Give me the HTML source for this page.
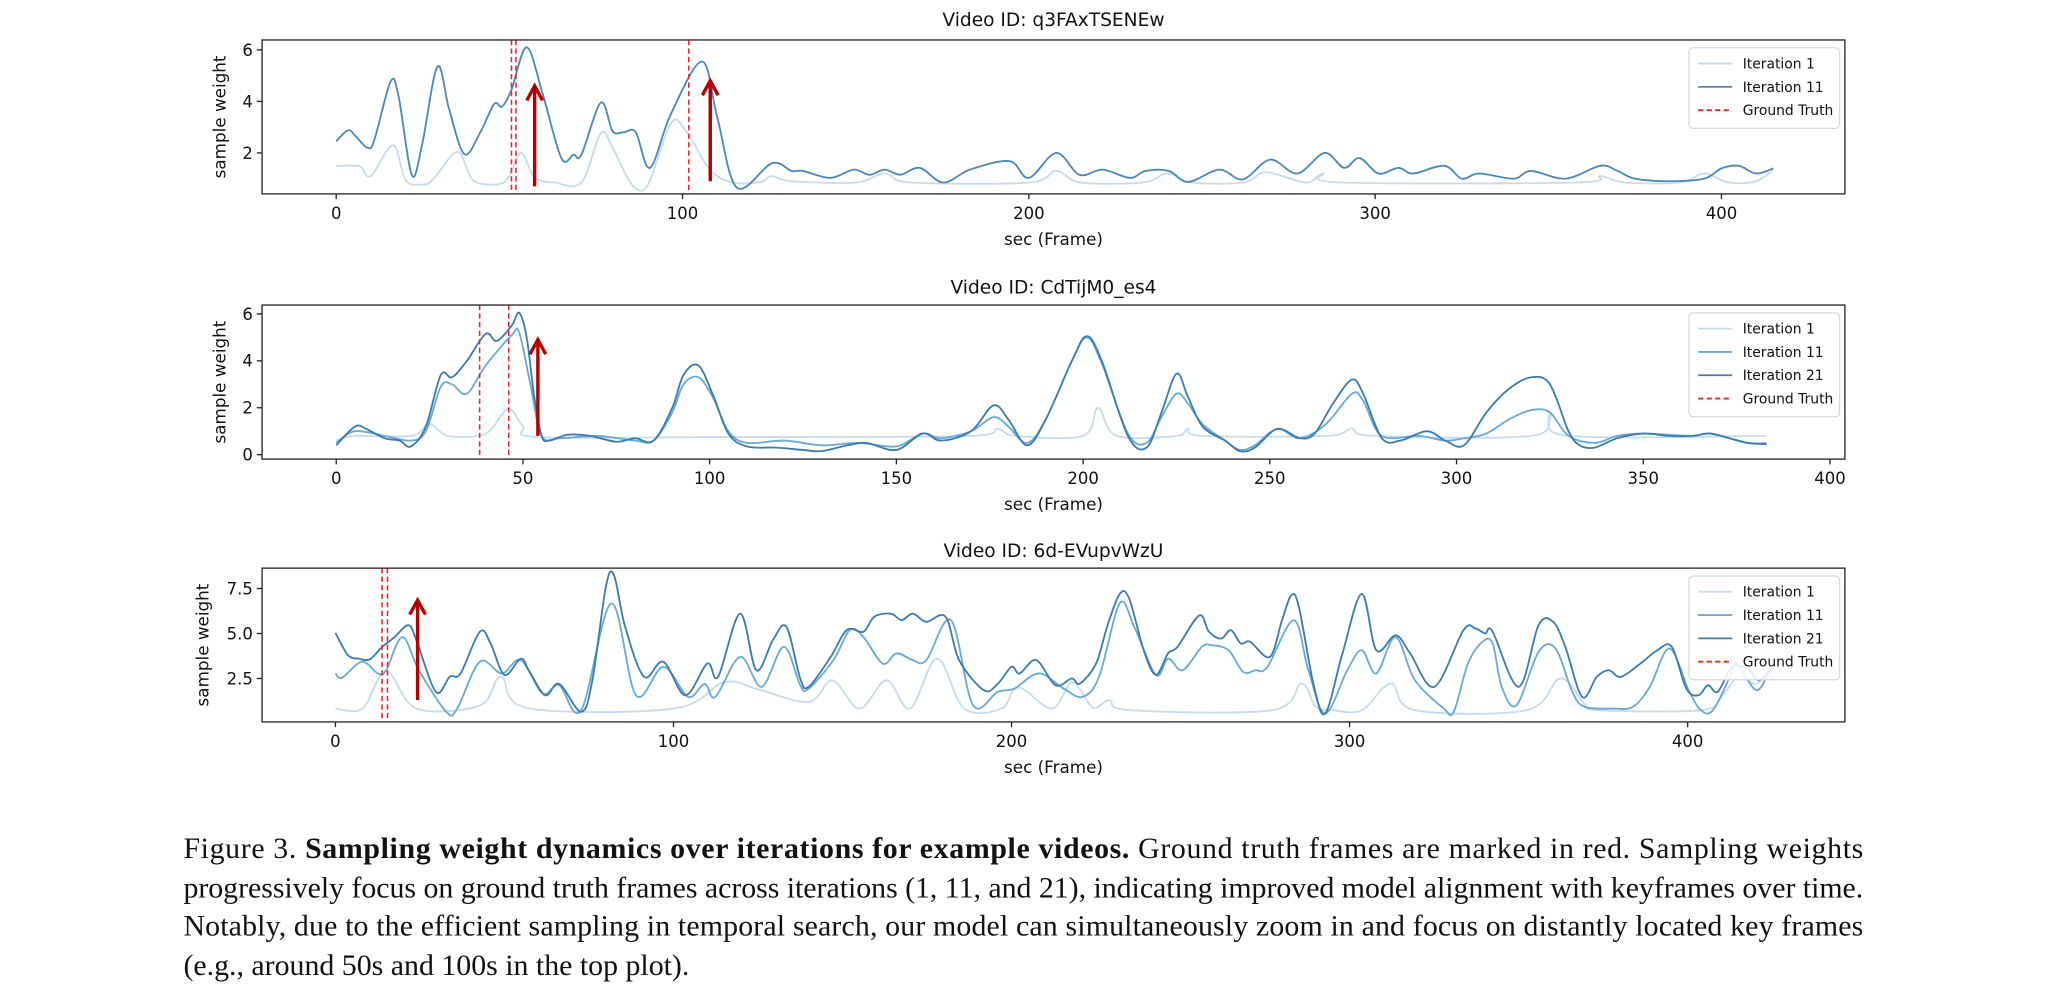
<!DOCTYPE html>
<html><head><meta charset="utf-8"><style>
html,body{margin:0;padding:0;background:#fff;}
svg{display:block;}
text{font-family:"DejaVu Sans","Liberation Sans",sans-serif;fill:#111;}
.cap{font-family:"Liberation Serif",serif;font-size:22.8px;fill:#111;}
</style></head><body>
<svg id="fig" width="2048" height="984" viewBox="0 0 1563 751" preserveAspectRatio="none" xmlns="http://www.w3.org/2000/svg">
<g id="plots"></g>
<g>
<text class="cap" x="140" y="655" textLength="1282" lengthAdjust="spacing">Figure 3. <tspan font-weight="bold">Sampling weight dynamics over iterations for example videos.</tspan> Ground truth frames are marked in red. Sampling weights</text>
<text class="cap" x="140" y="685" textLength="1282" lengthAdjust="spacing">progressively focus on ground truth frames across iterations (1, 11, and 21), indicating improved model alignment with keyframes over time.</text>
<text class="cap" x="140" y="714" textLength="1282" lengthAdjust="spacing">Notably, due to the efficient sampling in temporal search, our model can simultaneously zoom in and focus on distantly located key frames</text>
<text class="cap" x="140" y="744">(e.g., around 50s and 100s in the top plot).</text>
</g>
</svg>
<script>
// ---- Plot 1 data ----
const p1Iter11X=[0,3.4,5.6,9,11,15.7,18,21.8,24.7,29.2,32.6,37,41.6,45.6,47.9,50.6,55,59.6,65,68.5,70.8,76.4,79.8,83,86.5,90.6,96.6,105.6,110,115.7,125.8,131.5,134.8,142.7,149.4,154,158.4,162.9,168.5,175.3,183,194.4,200,207.9,214.6,221.3,229.2,233.7,240.4,246,255,261.8,269.7,277.5,285.4,291,295.5,301,306.7,311,320,325,330,340,345,355,365,370,375,385,395,400,405,410,415];
const p1Iter11Y=[2.45,2.88,2.65,2.2,2.5,4.77,4.2,1.15,2.25,5.35,3.7,1.95,2.8,3.9,3.8,4.45,6.1,4.3,1.8,1.93,1.93,3.95,2.85,2.8,2.8,1.42,3.5,5.55,3.4,0.65,1.6,1.3,1.3,1.03,1.35,1.15,1.35,1.15,1.42,0.85,1.35,1.68,1.03,2.0,1.15,1.35,1.03,1.3,1.3,0.87,1.35,0.97,1.74,1.2,2.0,1.42,1.8,1.2,1.42,1.2,1.5,1.0,1.2,1.0,1.3,1.0,1.5,1.3,1.0,0.9,1.0,1.4,1.5,1.2,1.4];
const p1Iter1X=[0,6.7,10,16.4,20,24.7,28,35,39.3,45,49.4,53.3,57.3,63,70.8,76.4,79.8,85.4,90,96.6,101,107.9,114.6,122.5,125.8,131.5,150,158.4,166,200,207.9,215,233,240,247,262,268.5,280,285,290,358,365,372,388,395,402,410,415];
const p1Iter1Y=[1.5,1.48,1.1,2.3,0.95,0.77,0.97,2.05,0.97,0.77,0.97,2.0,1.05,0.85,0.85,2.77,2.2,0.77,0.77,3.15,2.85,1.35,0.85,0.87,1.1,0.9,0.85,1.2,0.85,0.85,1.3,0.85,0.85,1.2,0.85,0.85,1.25,0.85,1.2,0.85,0.85,1.1,0.85,0.85,1.2,0.85,0.9,1.35];
const p1Truth=[50.6,51.9,101.8];
const p1ArrowX=[57.3,108];
const p1ArrowY0=[0.7,0.9];
const p1ArrowY1=[4.6,4.8];
const p1XTicks=[0,100,200,300,400];
const p1YTicks=[2,4,6];

// ---- Plot 2 data ----
const p2Iter21X=[0,5,8,13,17,20,24,28,31,35,40,43,47,49,51,53,55,57,62,68,75,80,85,90,93,97,101,105,110,118,125,130,137,142,150,157,162,170,176,180,185,190,197,201,205,212,217,221,225,228,232,238,242,246,252,258,262,267,272,275,280,285,292,297,302,308,314,320,325,330,333,337,343,350,357,363,368,373,378,383];
const p2Iter21Y=[0.4,1.2,1.1,0.7,0.6,0.35,1.2,3.4,3.3,4.0,5.15,4.85,5.5,6.05,5.0,2.5,0.8,0.6,0.85,0.8,0.55,0.7,0.6,2.0,3.4,3.8,2.5,0.9,0.35,0.3,0.2,0.15,0.4,0.5,0.2,0.9,0.6,1.0,2.1,1.5,0.4,1.5,4.0,5.05,4.0,0.8,0.3,1.8,3.45,2.5,1.2,0.6,0.15,0.3,1.1,0.7,0.9,2.2,3.2,2.6,0.7,0.6,1.0,0.6,0.4,1.8,2.8,3.3,3.0,1.0,0.4,0.3,0.7,0.9,0.8,0.8,0.9,0.7,0.5,0.45];
const p2Iter11X=[0,5,13,20,24,28,31,35,40,47,49,52,55,60,70,80,85,90,93,97,101,105,110,120,130,140,150,157,162,170,176,180,185,190,197,201,205,212,217,221,225,228,232,238,242,246,252,258,265,272,275,280,290,297,302,308,314,320,325,330,337,343,350,363,368,378,383];
const p2Iter11Y=[0.5,1.0,0.8,0.6,1.0,2.9,3.0,2.6,3.8,5.1,5.2,3.0,0.8,0.7,0.8,0.6,0.6,1.8,3.0,3.3,2.4,1.0,0.5,0.6,0.4,0.5,0.35,0.9,0.7,1.0,1.6,1.2,0.5,1.5,4.0,5.0,3.9,0.9,0.5,1.6,2.6,2.2,1.3,0.6,0.2,0.4,1.1,0.7,1.3,2.6,2.3,0.8,0.8,0.6,0.7,0.9,1.5,1.9,1.8,0.8,0.5,0.8,0.9,0.8,0.9,0.5,0.5];
const p2Iter1X=[0,5,20,25,30,40,46,50,54,100,120,170,177,182,200,204,209,225,228,232,265,272,278,320,325,330,383];
const p2Iter1Y=[0.6,0.8,0.8,1.3,0.8,0.9,1.95,1.2,0.75,0.75,0.75,0.8,1.1,0.8,0.8,2.0,0.8,0.8,1.1,0.8,0.8,1.1,0.8,0.8,1.7,0.8,0.8];
const p2Truth=[38.4,46.2];
const p2ArrowX=[54];
const p2ArrowY0=[0.8];
const p2ArrowY1=[4.9];
const p2XTicks=[0,50,100,150,200,250,300,350,400];
const p2YTicks=[0,2,4,6];

// ---- Plot 3 data ----
const p3Iter21X=[0,3.7,7,10.2,13.5,17.5,21.6,24,29.7,33.8,37,42.7,45.9,50,54.8,57.2,62,66.2,72.7,76,80,82.4,85.7,91.3,97,103.5,110,113.2,119.7,124.5,129.4,133.4,137.5,140,146.5,151.3,156.2,159.4,164.3,167.5,170.8,174.8,180.5,184.5,191.8,195.9,200,202.4,207.3,213,217.8,220.2,225,228.4,232,234.8,239.1,242.7,246.3,249.1,255.5,258.4,262,264.9,267.8,270.6,276.4,280,282.8,285,289.3,292.8,297.9,303.6,307.9,313.6,317.9,325.1,333.7,337.2,340.1,342.3,350,355.9,360.2,363.8,368.8,373.1,376.7,380.2,386,391,395.3,399.6,403.2,406,408.9,413.2,418,421,424.6];
const p3Iter21Y=[5.04,3.8,3.6,3.56,4.2,4.8,5.46,4.6,1.76,2.6,2.78,5.1,4.45,2.7,3.6,2.96,1.57,2.2,0.65,2.4,7.6,8.24,5.37,2.6,3.43,1.57,3.33,2.6,6.1,2.96,4.63,5.37,2.5,2.04,3.7,5.2,5.1,5.93,6.1,5.74,6.1,5.65,5.93,3.52,1.85,2.2,3.15,2.78,3.52,2.13,2.5,2.22,3.33,5.46,7.2,6.94,4.07,2.7,3.9,4.26,6.0,5.1,4.72,5.19,4.45,4.54,3.7,5.74,7.13,6.48,2.2,0.56,3.9,7.2,4.07,4.9,3.9,2.04,5.19,5.28,5.0,5.1,2.04,5.46,5.65,4.26,1.48,2.59,2.96,2.59,3.33,4.07,4.26,1.94,1.57,2.13,1.76,3.15,3.0,2.4,3.0];
const p3Iter11X=[0,2,7.8,12.6,15,19.8,24.7,32.8,36,42.7,49.2,54.8,61.3,66.2,72.7,81.6,88.9,97,104.3,109.2,112.4,119.7,126.1,132.6,137.5,140,147.3,152.2,156.2,161.9,166,170.8,174.8,182.1,188.6,195.9,200.8,208.1,215.4,221,225.9,232,236.3,242.7,246.3,250.6,256.3,259.2,264.2,268.5,272.1,275.7,283.5,287.8,292.8,299.3,303.6,307.9,313.6,319.3,327.9,330.8,335,339.3,342.3,345,349.4,355.9,360.9,365.9,369.5,378,383.8,388.8,394.6,400.3,403.9,407.5,412.5,414.6,420.4,424.6];
const p3Iter11Y=[2.78,2.55,3.43,2.78,2.96,4.8,2.96,0.65,0.83,3.43,2.78,3.52,1.67,2.13,0.74,6.67,1.57,3.15,1.48,2.2,1.48,3.7,2.04,4.26,2.13,1.94,3.52,5.2,4.8,3.33,3.9,3.52,3.52,5.74,1.02,1.76,1.94,2.78,1.94,1.48,2.6,6.67,5.37,2.7,3.6,2.96,4.26,4.35,4.07,2.87,2.96,3.15,5.74,2.96,0.56,2.96,4.07,2.78,4.8,2.41,0.83,0.65,3.33,4.54,4.45,2.04,1.02,3.98,4.17,1.76,0.93,0.83,0.93,2.04,4.17,1.85,0.74,0.74,2.59,3.33,1.85,3.15];
const p3Iter1X=[0,8,15,24,42.7,49,57,100,115,125,140,147,155,163,170,178,186,197,202,212,218,224,229,235,277,285.7,290,295,303.6,312.2,319.3,352.3,362.3,369.5,373.8,404,410,415,420,424];
const p3Iter1Y=[0.83,0.83,2.9,0.83,1.0,2.6,0.85,0.83,2.3,1.9,1.2,2.4,0.83,2.4,0.83,3.6,0.83,0.83,2.0,0.83,2.3,0.9,1.3,0.74,0.74,2.22,0.93,0.74,0.74,2.22,0.74,0.74,2.5,1.1,0.74,0.74,1.5,2.6,2.2,2.8];
const p3Truth=[13.8,15.4];
const p3ArrowX=[24.3];
const p3ArrowY0=[1.3];
const p3ArrowY1=[6.85];
const p3XTicks=[0,100,200,300,400];
const p3YTicks=[2.5,5.0,7.5];
const p3YTickLabels=["2.5","5.0","7.5"];

const C1="#c6dbef", C11="#6aaad4", C21="#3b7cb2", CTOP="#4a88bd";
const NS="http://www.w3.org/2000/svg";
const root=document.getElementById('plots');
function mk(tag,attrs,parent){const e=document.createElementNS(NS,tag);for(const k in attrs)e.setAttribute(k,attrs[k]);(parent||root).appendChild(e);return e;}
function smoothPath(xs,ys,sx,sy){
  const P=xs.map((x,i)=>[sx(x),sy(ys[i])]);
  let d="M"+P[0][0].toFixed(2)+","+P[0][1].toFixed(2);
  for(let i=0;i<P.length-1;i++){
    const p0=P[Math.max(0,i-1)],p1=P[i],p2=P[i+1],p3=P[Math.min(P.length-1,i+2)];
    const c1=[p1[0]+(p2[0]-p0[0])/6,p1[1]+(p2[1]-p0[1])/6];
    const c2=[p2[0]-(p3[0]-p1[0])/6,p2[1]-(p3[1]-p1[1])/6];
    d+="C"+c1[0].toFixed(2)+","+c1[1].toFixed(2)+" "+c2[0].toFixed(2)+","+c2[1].toFixed(2)+" "+p2[0].toFixed(2)+","+p2[1].toFixed(2);
  }
  return d;
}
function plot(cfg){
  const g=mk('g',{});
  
  
  const sx=v=>cfg.x0+cfg.kx*v, sy=v=>cfg.y0-cfg.ky*v;
  const L=200,R=1408,T=cfg.top,B=cfg.bottom;
  const t=mk('text',{x:(L+R)/2,y:cfg.titleY,'text-anchor':'middle','font-size':'14.2'},g);t.textContent=cfg.title;
  
  
  const clipId=cfg.name+'-clip';
  const cp=mk('clipPath',{id:clipId},g);mk('rect',{x:L,y:T,width:R-L,height:B-T},cp);
  const lines=mk('g',{'clip-path':'url(#'+clipId+')'},g);
  cfg.series.forEach(s=>{
    const p=mk('path',{d:smoothPath(s.x,s.y,sx,sy),fill:'none',stroke:s.c,'stroke-width':'1.4','stroke-linejoin':'round'},lines);
    
    
  });
  cfg.truth.forEach(v=>{
    const l=mk('line',{x1:sx(v),x2:sx(v),y1:T,y2:B,stroke:'#e8282b','stroke-width':'1.2','stroke-dasharray':'4,2.5'},g);
    
    
  });
  cfg.ax.forEach((v,i)=>{
    const ax=sx(v),a0=sy(cfg.ay0[i]),a1=sy(cfg.ay1[i]);
    const a=mk('g',{stroke:'#b50000','stroke-width':'2.6',fill:'none','stroke-linecap':'butt'},g);
    
    
    mk('line',{x1:ax,x2:ax,y1:a0,y2:a1},a);
    mk('polyline',{points:(ax-6)+","+(a1+11)+" "+ax+","+(a1)+" "+(ax+6)+","+(a1+11)},a);
  });
  const fr=mk('rect',{x:L,y:T,width:R-L,height:B-T,fill:'none',stroke:'#222','stroke-width':'1'},g);
  
  
  cfg.xt.forEach(v=>{
    const x=sx(v);
    mk('line',{x1:x,x2:x,y1:B,y2:B+4,stroke:'#222','stroke-width':'1'},g);
    const tl=mk('text',{x:x,y:B+19,'text-anchor':'middle','font-size':'12.6'},g);tl.textContent=String(v);
    
    
  });
  cfg.yt.forEach((v,i)=>{
    const y=sy(v);
    mk('line',{x1:L-4,x2:L,y1:y,y2:y,stroke:'#222','stroke-width':'1'},g);
    const tl=mk('text',{x:L-7,y:y+4.5,'text-anchor':'end','font-size':'12.6'},g);tl.textContent=cfg.ytl?cfg.ytl[i]:String(v);
    
    
  });
  const xl=mk('text',{x:(L+R)/2,y:B+39,'text-anchor':'middle','font-size':'12.8'},g);xl.textContent='sec (Frame)';
  
  
  const yl=mk('text',{x:0,y:0,'text-anchor':'middle','font-size':'12.8',transform:'translate('+cfg.ylx+','+((T+B)/2)+') rotate(-90)'},g);yl.textContent='sample weight';
  
  
  const lg=mk('g',{},g);
  
  
  const ents=cfg.legend, lh=17.8, lx=1289, ly=T+6, lhgt=ents.length*lh+8;
  mk('rect',{x:lx,y:ly,width:115,height:lhgt,rx:3,fill:'#fff','fill-opacity':'0.85',stroke:'#d6d6d6','stroke-width':'0.9'},lg);
  ents.forEach((e,i)=>{
    const y=ly+12+i*lh;
    const ln=mk('line',{x1:lx+7,x2:lx+33,y1:y,y2:y,stroke:e.c,'stroke-width':'1.4'},lg);
    if(e.dash)ln.setAttribute('stroke-dasharray','4,2.5');
    const tx=mk('text',{x:lx+41,y:y+3.8,'font-size':'10.6'},lg);tx.textContent=e.t;
    
    
  });
}
plot({name:'plot-q3FAxTSENEw',title:'Video ID: q3FAxTSENEw',titleY:20,top:30.5,bottom:148,x0:256.6,kx:2.643,y0:156,ky:19.65,ylx:172,
  series:[{x:p1Iter1X,y:p1Iter1Y,c:C1,n:'line-iteration-1'},{x:p1Iter11X,y:p1Iter11Y,c:CTOP,n:'line-iteration-11'}],
  truth:p1Truth,ax:p1ArrowX,ay0:p1ArrowY0,ay1:p1ArrowY1,xt:p1XTicks,yt:p1YTicks,
  legend:[{t:'Iteration 1',c:C1},{t:'Iteration 11',c:CTOP},{t:'Ground Truth',c:'#e8282b',dash:1}]});
plot({name:'plot-CdTijM0_es4',title:'Video ID: CdTijM0_es4',titleY:224,top:232.8,bottom:350.4,x0:256.6,kx:2.85,y0:347,ky:17.9,ylx:172,
  series:[{x:p2Iter1X,y:p2Iter1Y,c:C1,n:'line-iteration-1'},{x:p2Iter11X,y:p2Iter11Y,c:C11,n:'line-iteration-11'},{x:p2Iter21X,y:p2Iter21Y,c:C21,n:'line-iteration-21'}],
  truth:p2Truth,ax:p2ArrowX,ay0:p2ArrowY0,ay1:p2ArrowY1,xt:p2XTicks,yt:p2YTicks,
  legend:[{t:'Iteration 1',c:C1},{t:'Iteration 11',c:C11},{t:'Iteration 21',c:C21},{t:'Ground Truth',c:'#e8282b',dash:1}]});
plot({name:'plot-6d-EVupvWzU',title:'Video ID: 6d-EVupvWzU',titleY:425,top:433.6,bottom:551,x0:256,kx:2.58,y0:552.2,ky:13.74,ylx:159,
  series:[{x:p3Iter1X,y:p3Iter1Y,c:C1,n:'line-iteration-1'},{x:p3Iter11X,y:p3Iter11Y,c:C11,n:'line-iteration-11'},{x:p3Iter21X,y:p3Iter21Y,c:C21,n:'line-iteration-21'}],
  truth:p3Truth,ax:p3ArrowX,ay0:p3ArrowY0,ay1:p3ArrowY1,xt:p3XTicks,yt:p3YTicks,ytl:p3YTickLabels,
  legend:[{t:'Iteration 1',c:C1},{t:'Iteration 11',c:C11},{t:'Iteration 21',c:C21},{t:'Ground Truth',c:'#e8282b',dash:1}]});
</script>
</body></html>
